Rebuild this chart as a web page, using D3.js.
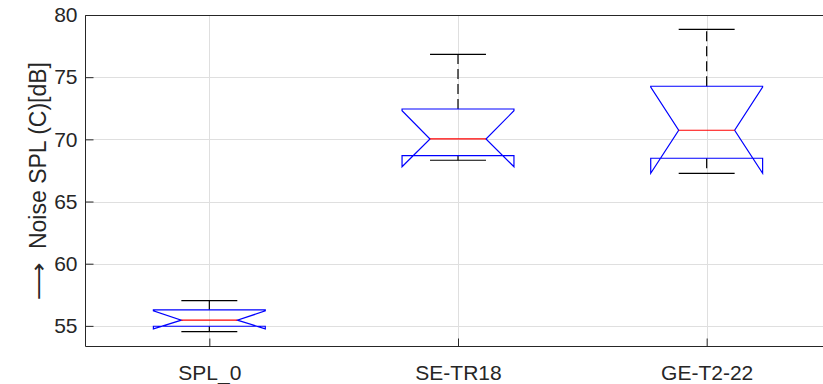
<!DOCTYPE html>
<html>
<head>
<meta charset="utf-8">
<script src="https://cdn.jsdelivr.net/npm/d3@7"></script>
<style>
  body { margin: 0; background: #fff; }
  svg { display: block; font-family: "Liberation Sans", Arial, sans-serif; }
</style>
</head>
<body>
<div id="chart"></div>
<script>
// groups and box statistics
const groups = ["SPL_0", "SE-TR18", "GE-T2-22"];
const whiskerLow = [54.54, 68.32, 67.27];
const q1 = [54.97, 68.69, 68.48];
const median = [55.46, 70.03, 70.73];
const q3 = [56.29, 72.44, 74.27];
const whiskerHigh = [57.03, 76.84, 78.85];
const notchLow = [54.76, 67.80, 67.27];
const notchHigh = [56.20, 72.30, 74.20];
const yTicks = [55, 60, 65, 70, 75, 80];

const data = groups.map((g, i) => ({
  g, pos: i + 1,
  lo: whiskerLow[i], q1: q1[i], med: median[i], q3: q3[i], hi: whiskerHigh[i],
  nlo: notchLow[i], nhi: notchHigh[i]
}));

const width = 823, height = 384;
const margin = {top: 15, left: 85, bottom: 37};
const plotRight = 831; // axes runs just past the window edge

const svg = d3.select("#chart").append("svg")
    .attr("width", width)
    .attr("height", height);

const x = d3.scaleLinear().domain([0.5, 3.5]).range([margin.left, plotRight]);
const y = d3.scaleLinear().domain([53.3, 80]).range([height - margin.bottom, margin.top]);

const axisColor = "#262626";
const gridColor = "#dfdfdf";

// grid
svg.append("g")
  .selectAll("line")
  .data(yTicks)
  .join("line")
    .attr("x1", margin.left).attr("x2", plotRight)
    .attr("y1", d => Math.round(y(d)) + 0.5).attr("y2", d => Math.round(y(d)) + 0.5)
    .attr("stroke", gridColor);

svg.append("g")
  .selectAll("line")
  .data(data)
  .join("line")
    .attr("x1", d => Math.round(x(d.pos)) + 0.5).attr("x2", d => Math.round(x(d.pos)) + 0.5)
    .attr("y1", y.range()[1]).attr("y2", y.range()[0])
    .attr("stroke", gridColor);

// axes
const yAxis = svg.append("g")
    .attr("transform", `translate(${margin.left + 0.5},0)`)
    .call(d3.axisRight(y).tickValues(yTicks).tickSize(8).tickSizeOuter(0).tickFormat(d3.format("d")));
yAxis.select(".domain").remove();
yAxis.selectAll(".tick line").attr("stroke", axisColor);
yAxis.selectAll(".tick text")
    .attr("x", -8)
    .attr("text-anchor", "end")
    .attr("fill", axisColor)
    .attr("font-size", 21);

const xAxis = svg.append("g")
    .attr("transform", `translate(0,${y.range()[0] - 0.5})`)
    .call(d3.axisTop(x).tickValues(data.map(d => d.pos)).tickSize(8).tickSizeOuter(0).tickFormat((d, i) => groups[i]));
xAxis.select(".domain").remove();
xAxis.selectAll(".tick line").attr("stroke", axisColor);
xAxis.selectAll(".tick text")
    .attr("y", 19)
    .attr("dy", "0.71em")
    .attr("fill", axisColor)
    .attr("font-size", 21);

// axes box
svg.append("path")
    .attr("d", `M${plotRight},${margin.top + 0.5}H${margin.left + 0.5}V${y.range()[0] - 0.5}H${plotRight}`)
    .attr("fill", "none")
    .attr("stroke", axisColor);

// boxes
const hw = 0.225;
const box = svg.append("g").selectAll("g").data(data).join("g");

box.append("line")
    .attr("x1", d => x(d.pos)).attr("x2", d => x(d.pos))
    .attr("y1", d => y(d.q3)).attr("y2", d => y(d.hi))
    .attr("stroke", "#000").attr("stroke-width", 1.2).attr("stroke-dasharray", "10,5");
box.append("line")
    .attr("x1", d => x(d.pos)).attr("x2", d => x(d.pos))
    .attr("y1", d => y(d.q1)).attr("y2", d => y(d.lo))
    .attr("stroke", "#000").attr("stroke-width", 1.2).attr("stroke-dasharray", "10,5");
box.append("line")
    .attr("x1", d => x(d.pos - hw / 2)).attr("x2", d => x(d.pos + hw / 2))
    .attr("y1", d => y(d.hi)).attr("y2", d => y(d.hi))
    .attr("stroke", "#000").attr("stroke-width", 1.2);
box.append("line")
    .attr("x1", d => x(d.pos - hw / 2)).attr("x2", d => x(d.pos + hw / 2))
    .attr("y1", d => y(d.lo)).attr("y2", d => y(d.lo))
    .attr("stroke", "#000").attr("stroke-width", 1.2);

box.append("path")
    .attr("d", d => {
      const l = x(d.pos - hw), r = x(d.pos + hw);
      const ml = x(d.pos - hw / 2), mr = x(d.pos + hw / 2);
      return `M${l},${y(d.q1)}L${l},${y(d.nlo)}L${ml},${y(d.med)}L${l},${y(d.nhi)}L${l},${y(d.q3)}` +
             `L${r},${y(d.q3)}L${r},${y(d.nhi)}L${mr},${y(d.med)}L${r},${y(d.nlo)}L${r},${y(d.q1)}Z`;
    })
    .attr("fill", "none")
    .attr("stroke", "#0000ff")
    .attr("stroke-width", 1.2);

box.append("line")
    .attr("x1", d => x(d.pos - hw / 2)).attr("x2", d => x(d.pos + hw / 2))
    .attr("y1", d => y(d.med)).attr("y2", d => y(d.med))
    .attr("stroke", "#ff0000")
    .attr("stroke-width", 1.2);

// y label: long arrow then the text, reading bottom to top
svg.append("text")
    .attr("transform", "translate(46,300) rotate(-90) scale(1.2,1)")
    .attr("text-anchor", "start")
    .attr("fill", axisColor)
    .attr("font-family", "DejaVu Sans")
    .attr("font-size", 22)
    .text("\u27F6");
svg.append("text")
    .attr("transform", "translate(46,62) rotate(-90)")
    .attr("text-anchor", "end")
    .attr("fill", axisColor)
    .attr("font-size", 23)
    .text("Noise SPL (C)[dB]");
</script>
</body>
</html>
